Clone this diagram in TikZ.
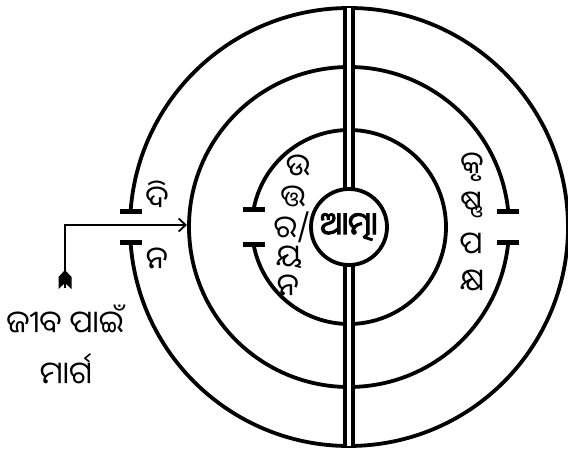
\documentclass[tikz,border=0pt]{standalone}
\usepackage{fontspec}
\newfontfamily\odia[Script=Oriya, AutoFakeBold=3.5]{Noto Sans Oriya UI}
\usetikzlibrary{arrows.meta}

\begin{document}
\begin{tikzpicture}[x=1pt, y=1pt,
		anneau/.style={line width=3.8pt},
		tbarre/.style={line width=4.4pt},
		lettre/.style={font=\odia\fontsize{31}{31}\selectfont, inner sep=0pt},
		fleche/.style={line width=2.2pt, shorten >=2pt,
			-{Straight Barb[length=7pt, width=13pt, line width=1.8pt]}},
	]
		\useasboundingbox (0,0) rectangle (568,454);
		\coordinate (centre) at (349,227);

		% Cercle extérieur (ouvert à gauche)
		\draw[anneau] (centre) ++(184.1:219) coordinate (ext-bas)
			arc[start angle=184.1, end angle=535.9, radius=219] coordinate (ext-haut);
		% Cercle du milieu (ouvert à droite)
		\draw[anneau] (centre) ++(5.6:160) coordinate (mil-haut)
			arc[start angle=5.6, end angle=354.4, radius=160] coordinate (mil-bas);
		\path (centre) ++(180:160) coordinate (mil-gauche);
		% Troisième cercle (ouvert à gauche)
		\draw[anneau] (centre) ++(190.4:97) coordinate (int-bas)
			arc[start angle=190.4, end angle=529.6, radius=97] coordinate (int-haut);

		% Barres aux ouvertures
		\foreach \p in {ext-bas, ext-haut, mil-haut, mil-bas, int-bas, int-haut}
			\draw[tbarre] ([xshift=-11pt]\p) -- ([xshift=11pt]\p);

		% Double ligne verticale
		\coordinate (haut) at (349,446);
		\coordinate (bas) at (349,8);
		\draw[line width=3.6pt, double, double distance=4.2pt] (haut) -- (bas);

		% Ame au centre
		\node[circle, draw, fill=white, line width=3.8pt, minimum size=76pt, inner sep=0pt,
			font=\odia\bfseries\fontsize{31}{31}\selectfont] (atma) at (centre) {ଆତ୍ମା};

		% Textes
		\node[lettre] (di) at (157,258) {ଦି};
		\node[lettre] (na) at (157,194) {ନ};
		\node[lettre] (u) at (298,287) {ଉ};
		\node[lettre] (tta) at (293,256) {ତ୍ତ};
		\node[lettre] (ra) at (292,227) {ର/};
		\node[lettre] (ya) at (289,196) {ୟ};
		\node[lettre] (na2) at (288,167) {ନ};
		\node[lettre] (kru) at (472,287) {କୃ};
		\node[lettre] (shna) at (472,249) {ଷ୍ଣ};
		\node[lettre] (pa) at (471,209) {ପ};
		\node[lettre] (ksha) at (472,172) {କ୍ଷ};
		\node[lettre] (jiba) at (65,134) {ଜୀବ ପାଇଁ};
		\node[lettre] (marga) at (66,84) {ମାର୍ଗ};

		% Flèche
		\coordinate (queue) at (65,166);
		\coordinate (coin) at (65,229);
		\draw[fleche] (queue) -- (coin) -- (coin -| mil-gauche);
		\fill (queue) ++(0,18) -- ++(-6.5,-7) -- ++(0,-12) -- ++(6.5,6) -- cycle;
		\fill (queue) ++(0,18) -- ++(6.5,-7) -- ++(0,-12) -- ++(-6.5,6) -- cycle;

	\end{tikzpicture}
\end{document}
